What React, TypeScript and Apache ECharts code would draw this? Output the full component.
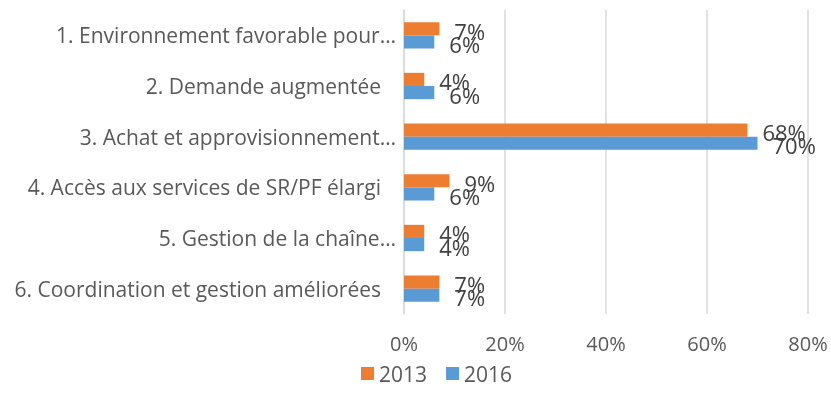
import React, { useEffect, useRef } from "react";
import * as echarts from "echarts";

const categories = [
  "1. Environnement favorable pour…",
  "2. Demande augmentée ",
  "3. Achat et approvisionnement…",
  "4. Accès aux services de SR/PF élargi ",
  "5. Gestion de la chaîne…",
  "6. Coordination et gestion améliorées ",
];
const values2013 = [7, 4, 68, 9, 4, 7];
const values2016 = [6, 6, 70, 6, 4, 7];
const xTicks = [0, 20, 40, 60, 80];

const FONT = "'Open Sans', 'Noto Sans', sans-serif";

export default function App() {
  const ref = useRef<HTMLDivElement>(null);
  useEffect(() => {
    if (!ref.current) return;
    const chart = echarts.init(ref.current, null, { renderer: "svg" });
    const label = {
      show: true,
      position: "right" as const,
      distance: 15,
      offset: [0, 2],
      formatter: (p: any) => `${p.value}%`,
      fontSize: 22,
      fontFamily: FONT,
      color: "#404040",
    };
    chart.setOption({
      animation: false,
      textStyle: { fontFamily: FONT },
      grid: { left: 404, right: 23, top: 10, bottom: 93, containLabel: false },
      legend: {
        top: 358,
        left: 356,
        icon: "rect",
        itemWidth: 13,
        itemHeight: 13,
        itemGap: 19,
        textStyle: { fontSize: 21, color: "#595959", fontFamily: FONT },
        data: ["2013", "2016"],
      },
      xAxis: {
        type: "value",
        min: xTicks[0],
        max: xTicks[xTicks.length - 1],
        interval: 20,
        axisLine: { show: false },
        axisTick: { show: false },
        splitLine: { show: true, lineStyle: { color: "#d9d9d9", width: 1.5 } },
        axisLabel: {
          formatter: (v: number) => `${v}%`,
          fontSize: 20,
          color: "#595959",
          margin: 19,
          fontFamily: FONT,
        },
      },
      yAxis: {
        type: "category",
        inverse: true,
        data: categories,
        axisLine: { show: true, lineStyle: { color: "#d9d9d9", width: 1.5 } },
        axisTick: { show: false },
        axisLabel: {
          fontSize: 21,
          color: "#595959",
          margin: 8,
          fontFamily: FONT,
          formatter: (v: string) =>
            v.endsWith(" ") ? `{p|${v.trimEnd()}}` : `{n|${v}}`,
          rich: {
            p: { fontSize: 21, color: "#595959", fontFamily: FONT, padding: [0, 15, 0, 0] },
            n: { fontSize: 21, color: "#595959", fontFamily: FONT },
          },
        },
      },
      series: [
        {
          name: "2013",
          type: "bar",
          data: values2013,
          barGap: "0%",
          barCategoryGap: "48%",
          itemStyle: { color: "#ED7D31" },
          label,
        },
        {
          name: "2016",
          type: "bar",
          data: values2016,
          barGap: "0%",
          barCategoryGap: "48%",
          itemStyle: { color: "#5B9BD5" },
          label,
        },
      ],
    });
    return () => chart.dispose();
  }, []);
  return (
    <div
      ref={ref}
      style={{ position: "fixed", left: 0, top: 0, width: 831, height: 407 }}
    />
  );
}
